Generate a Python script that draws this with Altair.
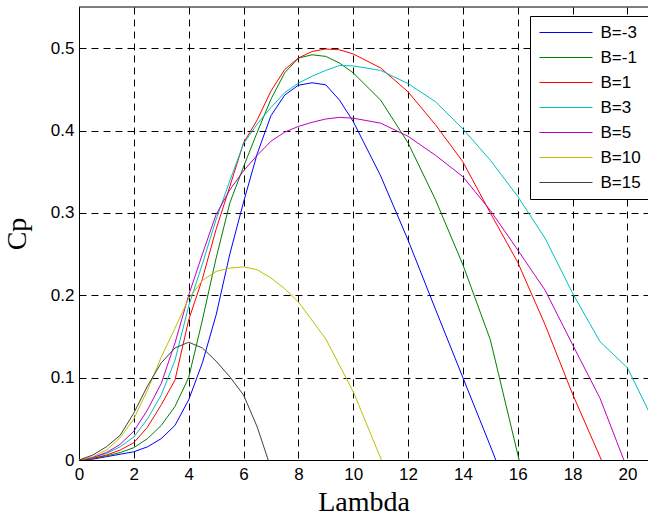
import altair as alt
import pandas as pd

# ---- data ----
series_labels = ["B=-3", "B=-1", "B=1", "B=3", "B=5", "B=10", "B=15"]
series_colors = ["#0000ff", "#008000", "#ff0000", "#00bfbf", "#bf00bf", "#bfbf00", "#404040"]

lam_lo = [0, 0.5, 1, 1.5, 2, 2.5, 3, 3.5, 4, 4.5, 5, 5.5, 6, 6.5, 7, 7.5, 8, 8.5, 9, 9.5, 10]

lam_bm3 = lam_lo + [11, 12, 13, 14, 15, 15.2]
cp_bm3 = [0, 0.001, 0.004, 0.007, 0.01, 0.016, 0.026, 0.042, 0.073, 0.118, 0.176, 0.25, 0.313,
          0.372, 0.418, 0.443, 0.455, 0.458, 0.4555, 0.437, 0.411, 0.345, 0.267, 0.183, 0.1, 0.017, 0]

lam_bm1 = lam_lo + [11, 12, 13, 14, 15, 16.05]
cp_bm1 = [0, 0.002, 0.005, 0.009, 0.015, 0.026, 0.042, 0.065, 0.1, 0.17, 0.245, 0.312, 0.356,
          0.398, 0.438, 0.47, 0.488, 0.492, 0.49, 0.482, 0.47, 0.437, 0.385, 0.316, 0.237, 0.146, 0]

lam_b1 = lam_lo + [11, 12, 13, 14, 15, 16, 17, 18, 19.05]
cp_b1 = [0, 0.002, 0.006, 0.012, 0.021, 0.04, 0.067, 0.097, 0.17, 0.22, 0.28, 0.332, 0.385,
         0.413, 0.448, 0.474, 0.488, 0.496, 0.499, 0.498, 0.493, 0.476, 0.447, 0.407, 0.362,
         0.30, 0.24, 0.164, 0.08, 0]

lam_b3 = lam_lo + [11, 12, 13, 14, 15, 16, 17, 18, 19, 20, 21]
cp_b3 = [0, 0.003, 0.008, 0.016, 0.028, 0.05, 0.079, 0.121, 0.187, 0.238, 0.292, 0.339, 0.384,
         0.408, 0.428, 0.446, 0.4575, 0.466, 0.473, 0.479, 0.4785, 0.473, 0.457, 0.435, 0.402,
         0.364, 0.32, 0.269, 0.2025, 0.1437, 0.112, 0.044]

lam_b5 = lam_lo + [11, 12, 13, 14, 15, 16, 17, 18, 19, 19.87]
cp_b5 = [0, 0.003, 0.009, 0.019, 0.035, 0.061, 0.093, 0.142, 0.2, 0.25, 0.298, 0.328, 0.351,
         0.37, 0.387, 0.398, 0.405, 0.41, 0.414, 0.416, 0.415, 0.409, 0.393, 0.37, 0.344,
         0.303, 0.255, 0.206, 0.14, 0.075, 0]

lam_b10 = [0, 0.5, 1, 1.5, 2, 2.5, 3, 3.5, 4, 4.5, 5, 5.5, 6, 6.5, 7, 7.5, 8, 9, 10, 11.03]
cp_b10 = [0, 0.004, 0.012, 0.027, 0.05, 0.085, 0.125, 0.16, 0.196, 0.218, 0.229, 0.233, 0.2345,
          0.231, 0.221, 0.208, 0.192, 0.147, 0.083, 0]

lam_b15 = [0, 0.5, 1, 1.5, 2, 2.5, 3, 3.5, 4, 4.5, 5, 5.5, 6, 6.5, 6.9]
cp_b15 = [0, 0.006, 0.016, 0.03, 0.057, 0.09, 0.118, 0.136, 0.143, 0.136, 0.12, 0.101, 0.079,
          0.04, 0]

x_ticks = [0, 2, 4, 6, 8, 10, 12, 14, 16, 18, 20]
y_ticks = [0, 0.1, 0.2, 0.3, 0.4, 0.5]

# ---- build table ----
all_lam = [lam_bm3, lam_bm1, lam_b1, lam_b3, lam_b5, lam_b10, lam_b15]
all_cp = [cp_bm3, cp_bm1, cp_b1, cp_b3, cp_b5, cp_b10, cp_b15]
rows = []
for name, xs, ys in zip(series_labels, all_lam, all_cp):
    for i, (xv, yv) in enumerate(zip(xs, ys)):
        rows.append({"series": name, "Lambda": xv, "Cp": yv, "idx": i})
df = pd.DataFrame(rows)

W, H = 569, 453

lines = alt.Chart(df).mark_line(strokeWidth=1, clip=True).encode(
    x=alt.X("Lambda:Q",
            scale=alt.Scale(domain=[0, 20.75], nice=False, zero=False),
            axis=alt.Axis(values=x_ticks, title="Lambda", titlePadding=6, labelPadding=6,
                          labelFlush=False)),
    y=alt.Y("Cp:Q",
            scale=alt.Scale(domain=[0, 0.55], nice=False),
            axis=alt.Axis(values=y_ticks, format="~g", title="Cp", titlePadding=19,
                          labelPadding=5, labelFlush=False)),
    color=alt.Color("series:N",
                    scale=alt.Scale(domain=series_labels, range=series_colors),
                    legend=alt.Legend(title=None, orient="none", legendX=451, legendY=9,
                                      symbolType="M-4,0H4", symbolSize=175.6,
                                      symbolStrokeWidth=1, labelFont="Liberation Sans",
                                      labelFontSize=17, labelColor="black",
                                      strokeColor="black", fillColor="white",
                                      padding=8, rowPadding=7, labelOffset=26,
                                      symbolOffset=19.5, cornerRadius=0, offset=0)),
    order="idx:Q",
)

top_border = alt.Chart(pd.DataFrame({"a": [0]})).mark_rule(color="black", strokeWidth=1).encode(
    x=alt.value(0), x2=alt.value(W), y=alt.value(0)
)

chart = alt.layer(lines, top_border).properties(
    width=W, height=H,
    padding={"left": 79, "top": 7, "right": 0, "bottom": 59},
    autosize=alt.AutoSizeParams(type="none"),
    background="white",
).configure_view(stroke="transparent").configure_axis(
    grid=True, gridColor="black", gridDash=[7, 5], gridWidth=1, gridOpacity=1,
    domainColor="black", domainWidth=1, ticks=False,
    labelFont="Liberation Sans", labelFontSize=17, labelColor="black",
    titleFont="Liberation Serif", titleFontSize=28, titleFontWeight="normal", titleColor="black",
)

chart.save("out.html", embed_options={"renderer": "svg", "actions": False})
